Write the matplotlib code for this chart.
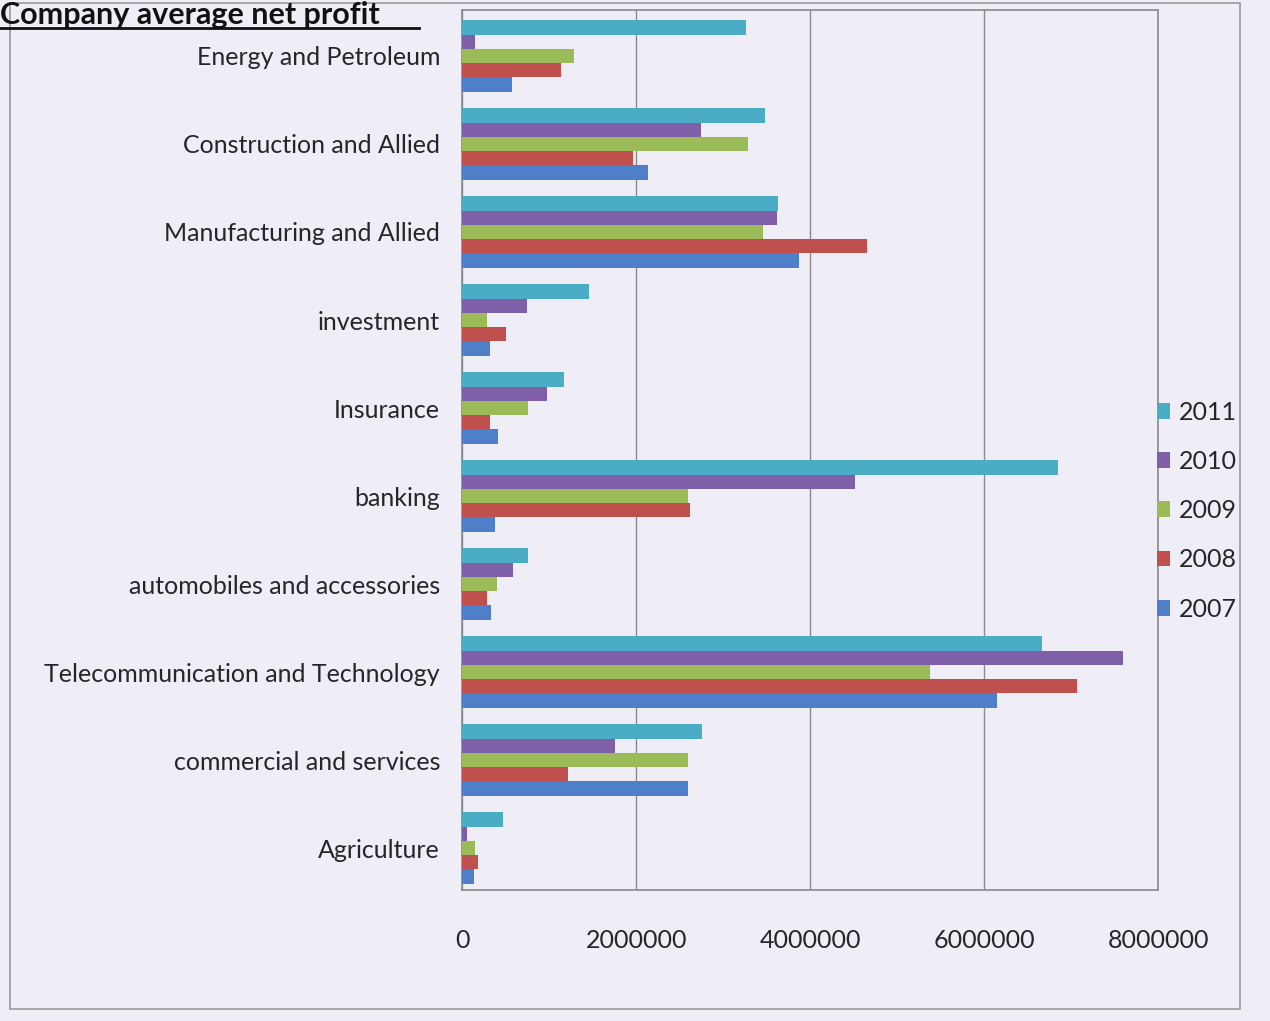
import numpy as np
import matplotlib
matplotlib.use('Agg')
import matplotlib.pyplot as plt
from matplotlib.patches import Patch, Rectangle

plt.rcParams['font.family'] = ['Lato', 'DejaVu Sans']

# sectors, top to bottom as in the chart
sectors = ['Energy and Petroleum', 'Construction and Allied', 'Manufacturing and Allied',
           'investment', 'Insurance', 'banking', 'automobiles and accessories',
           'Telecommunication and Technology', 'commercial and services', 'Agriculture']
years = ['2011', '2010', '2009', '2008', '2007']

# average net profit
p2011 = [3260000, 3480000, 3630000, 1460000, 1170000, 6850000, 760000, 6660000, 2760000, 470000]
p2010 = [150000, 2740000, 3620000, 740000, 970000, 4520000, 580000, 7600000, 1760000, 60000]
p2009 = [1280000, 3280000, 3460000, 280000, 760000, 2590000, 400000, 5380000, 2590000, 150000]
p2008 = [1140000, 1960000, 4650000, 500000, 320000, 2620000, 280000, 7070000, 1220000, 180000]
p2007 = [570000, 2130000, 3870000, 320000, 410000, 380000, 330000, 6150000, 2590000, 130000]

colors = ['#4bacc6', '#7f60a8', '#9bbb59', '#c0504d', '#4f7fc9']
series = [p2011, p2010, p2009, p2008, p2007]

paper = '#efeef6'
ink = '#262626'
fig = plt.figure(figsize=(12.7, 10.21), dpi=100, facecolor=paper)
ax = fig.add_axes([0.364, 0.128, 0.548, 0.862])
ax.set_facecolor(paper)

y = np.arange(len(sectors))
h = 0.162
for i, (vals, c) in enumerate(zip(series, colors)):
    ax.barh(y - 2 * h + i * h, vals, height=h, color=c, label=years[i], zorder=3)

ax.set_ylim(len(sectors) - 0.52, -0.52)
ax.set_xlim(0, 8000000)
ax.set_xticks([0, 2000000, 4000000, 6000000, 8000000])
ax.set_xticklabels(['0', '2000000', '4000000', '6000000', '8000000'])
ax.set_yticks(y)
ax.set_yticklabels(sectors)
ax.tick_params(axis='both', length=0, labelsize=18, colors=ink)
ax.tick_params(axis='x', pad=28)
ax.tick_params(axis='y', pad=16)
ax.grid(axis='x', color='#8a8a8a', linewidth=1, zorder=0)
for s in ax.spines.values():
    s.set_color('#8a8a8a')
    s.set_linewidth(1.2)

handles = [Patch(facecolor=c, label=yr) for c, yr in zip(colors, years)]
fig.legend(handles=handles, loc='center left', bbox_to_anchor=(0.893, 0.5),
           frameon=False, fontsize=18, handlelength=0.55, handleheight=0.6,
           handletextpad=0.35, labelspacing=1.05, labelcolor=ink)

fig.text(0.0, 0.999, 'Company average net profit', fontsize=22, fontweight='bold',
         va='top', ha='left', color='#111111')
fig.add_artist(plt.Line2D([0.0, 0.33], [0.973, 0.973], color='#111111', linewidth=2,
                          transform=fig.transFigure))

# outer chart frame
fig.add_artist(Rectangle((0.008, 0.012), 0.968, 0.985, transform=fig.transFigure,
                         fill=False, edgecolor='#9a9a9a', linewidth=1.2))

fig.savefig('out.png', dpi=100, facecolor=paper)
